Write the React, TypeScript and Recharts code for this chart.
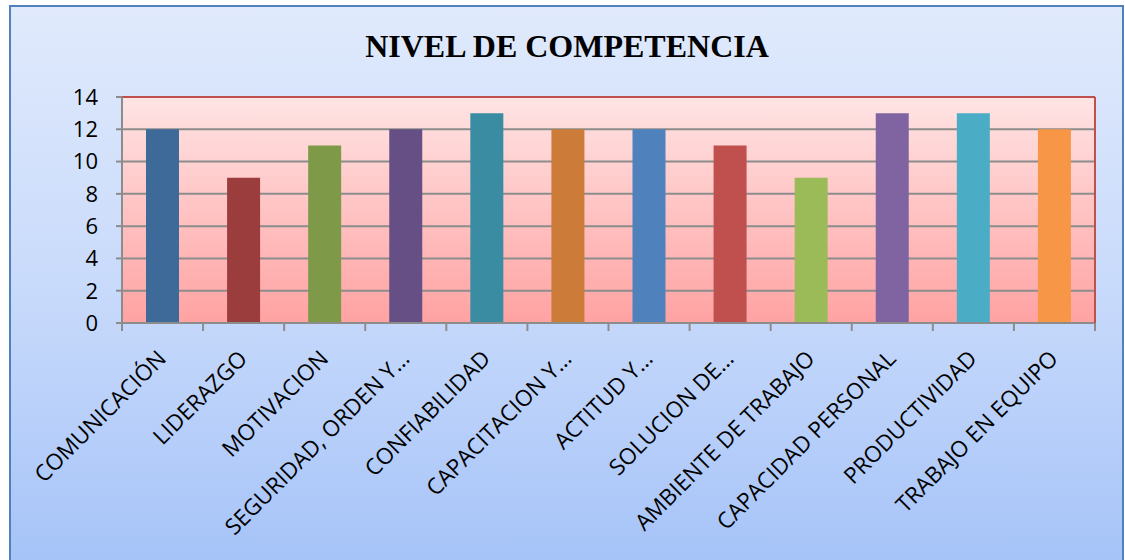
import { BarChart, Bar, XAxis, YAxis, CartesianGrid, Cell, ReferenceLine } from "recharts";

const categories = [
  "COMUNICACIÓN",
  "LIDERAZGO",
  "MOTIVACION",
  "SEGURIDAD, ORDEN Y…",
  "CONFIABILIDAD",
  "CAPACITACION Y…",
  "ACTITUD Y…",
  "SOLUCION DE…",
  "AMBIENTE DE TRABAJO",
  "CAPACIDAD PERSONAL",
  "PRODUCTIVIDAD",
  "TRABAJO EN EQUIPO",
];
const values = [12, 9, 11, 12, 13, 12, 12, 11, 9, 13, 13, 12];
const yTicks = [0, 2, 4, 6, 8, 10, 12, 14];

const barColors = [
  "#3E6A9A", "#9C3D3D", "#7E9A48", "#654F85", "#3A8CA3", "#CC7C38",
  "#4F81BD", "#C0504D", "#9BBB59", "#8064A2", "#4BACC6", "#F79646",
];

const data = categories.map((name, i) => ({ name, value: values[i] }));

const PLOT_LEFT = 122;
const PLOT_RIGHT = 1095;
const BAND = (PLOT_RIGHT - PLOT_LEFT) / categories.length;
const AXIS_GRAY = "#8C8C8C";
const FONT = "'Open Sans', sans-serif";

function CategoryTick(props: any) {
  const { x, y, payload, index } = props;
  const tx = x + 5;
  const ty = y + 37;
  return (
    <g>
      <line x1={x - BAND / 2} y1={y} x2={x - BAND / 2} y2={y + 8} stroke={AXIS_GRAY} strokeWidth={2} />
      {index === categories.length - 1 && (
        <line x1={x + BAND / 2} y1={y} x2={x + BAND / 2} y2={y + 8} stroke={AXIS_GRAY} strokeWidth={2} />
      )}
      <text
        x={tx}
        y={ty}
        textAnchor="end"
        transform={`rotate(-45, ${tx}, ${ty})`}
        fontFamily={FONT}
        fontSize={22.5}
        fill="#000"
      >
        {payload.value}
      </text>
    </g>
  );
}

export default function App() {
  return (
    <div
      style={{
        position: "fixed",
        left: 0,
        top: 0,
        width: 1125,
        height: 560,
        overflow: "hidden",
        background: "#fff",
      }}
    >
      <div
        style={{
          position: "absolute",
          left: 9,
          top: 5,
          width: 1111,
          height: 570,
          border: "2px solid #4F81BD",
          background: "linear-gradient(180deg, #E0EAFC 0%, #C8DAFB 50%, #A4C2F8 100%)",
        }}
      />
      <div
        style={{
          position: "absolute",
          left: 0,
          top: 28,
          width: 1134,
          textAlign: "center",
          fontFamily: "'Liberation Serif', 'Times New Roman', serif",
          fontWeight: "bold",
          fontSize: 32,
          lineHeight: "36px",
        }}
      >
        NIVEL DE COMPETENCIA
      </div>
      <div style={{ position: "absolute", left: 0, top: 0 }}>
        <BarChart
          width={1125}
          height={560}
          data={data}
          margin={{ top: 97, right: 0, left: 0, bottom: 0 }}
          barSize={33}
        >
          <defs>
            <linearGradient id="plotBg" x1="0" y1="0" x2="0" y2="1">
              <stop offset="0%" stopColor="#FFE4E4" />
              <stop offset="100%" stopColor="#FFA2A2" />
            </linearGradient>
          </defs>
          <CartesianGrid
            vertical={false}
            fill="url(#plotBg)"
            fillOpacity={1}
            stroke={AXIS_GRAY}
            strokeWidth={2}
          />
          <XAxis
            dataKey="name"
            interval={0}
            height={237}
            tickLine={false}
            tickSize={0}
            tickMargin={0}
            axisLine={{ stroke: AXIS_GRAY, strokeWidth: 2 }}
            tick={<CategoryTick />}
          />
          <YAxis
            width={PLOT_LEFT}
            domain={[0, 14]}
            ticks={yTicks}
            interval={0}
            tickSize={6}
            tickMargin={18}
            axisLine={{ stroke: AXIS_GRAY, strokeWidth: 2 }}
            tickLine={{ stroke: AXIS_GRAY, strokeWidth: 2 }}
            tick={{ fill: "#000", fontSize: 22, fontFamily: FONT }}
          />
          <YAxis
            yAxisId="right"
            orientation="right"
            width={1125 - PLOT_RIGHT}
            domain={[0, 14]}
            tick={false}
            tickLine={false}
            axisLine={{ stroke: "#C0504D", strokeWidth: 2 }}
          />
          <ReferenceLine y={14} stroke="#C0504D" strokeWidth={2} />
          <Bar dataKey="value" isAnimationActive={false}>
            {data.map((d, i) => (
              <Cell key={d.name} fill={barColors[i]} />
            ))}
          </Bar>
        </BarChart>
      </div>
    </div>
  );
}
